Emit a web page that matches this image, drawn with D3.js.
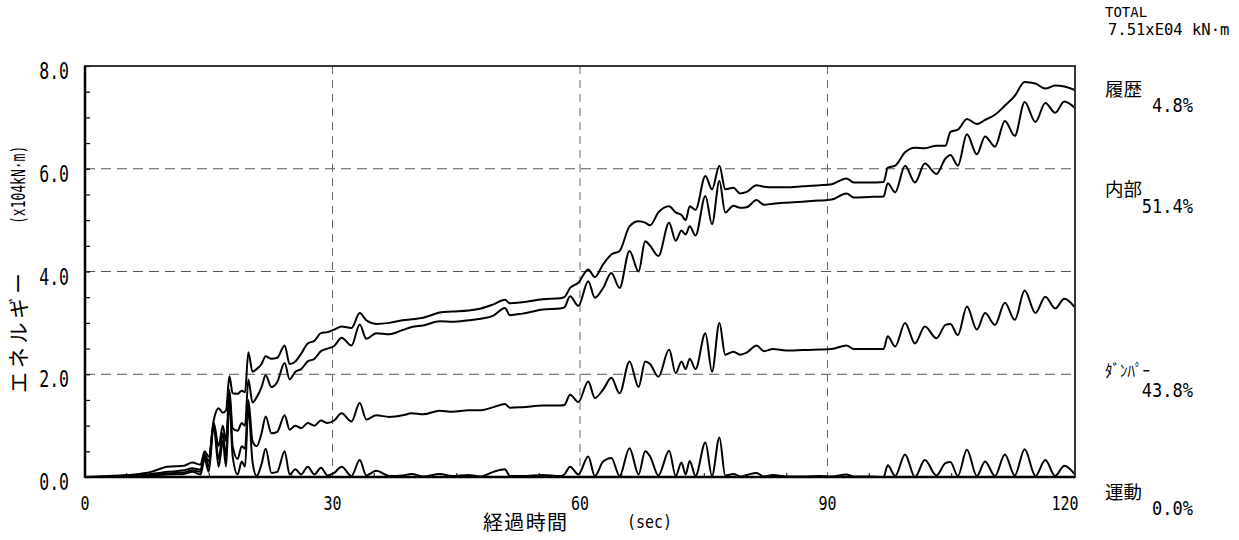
<!DOCTYPE html>
<html lang="ja">
<head>
<meta charset="UTF-8">
<title>エネルギー時刻歴</title>
<script src="https://d3js.org/d3.v7.min.js"></script>
<style>
  body { margin: 0; background: #fff; }
  svg { display: block; }
  .mono { font-family: "DejaVu Sans Mono", "Liberation Mono", monospace; }
  .jp { font-family: "Noto Sans CJK JP", sans-serif; }
</style>
</head>
<body>
<svg id="chart" width="1239" height="540"></svg>
<script>
// 時刻 (sec)
const time = [0, 2, 4, 6, 8, 10, 12, 13, 14, 14.5,
  15, 15.6, 16.2, 16.7, 17.1, 17.5, 17.9, 18.5, 19.0, 19.4,
  19.8, 20.3, 20.8, 21.4, 21.9, 22.6, 23.3, 24.2, 24.8, 25.5,
  26.2, 27.0, 27.8, 28.6, 29.4, 30.2, 31.1, 32.3, 33.3, 34.1,
  35.3, 36.9, 38.5, 39.6, 41, 43, 44.5, 46.5, 48, 49.5,
  50.9, 51.5, 53, 55.5, 57.6, 58.1, 58.8, 59.8, 61.0, 61.8,
  62.8, 63.8, 64.8, 66.0, 67.1, 67.9, 68.5, 69.5, 70.8, 71.6,
  72.3, 72.8, 73.3, 74.0, 75.2, 76.0, 76.9, 77.6, 78.6, 79.4,
  80.2, 81.4, 82.3, 83.4, 85, 87, 89, 90.5, 92.3, 93.2,
  95, 96.8, 97.3, 98.2, 99.4, 100.6, 101.8, 103.2, 104.3, 104.9,
  105.8, 106.9, 108.1, 109.1, 110.3, 111.5, 112.7, 113.9, 115.2, 116.4,
  117.6, 118.7, 120];

// 運動 (x10^4 kN·m)
const undo = [0, 0, 0.01, 0.02, 0.03, 0.05, 0.06, 0.1, 0.05, 0.35,
  0.1, 1.0, 0.2, 0.7, 0.2, 1.5, 0.4, 0.05, 0.3, 0.2,
  1.35, 0.3, 0.02, 0.25, 0.55, 0.08, 0.1, 0.5, 0.05, 0.15,
  0.05, 0.2, 0.05, 0.18, 0.03, 0.08, 0.2, 0.02, 0.33, 0.03,
  0.12, 0.02, 0.03, 0.06, 0.01, 0.06, 0.02, 0.04, 0.01, 0.1,
  0.15, 0.02, 0.02, 0.04, 0.02, 0.05, 0.2, 0.05, 0.4, 0.02,
  0.3, 0.37, 0.02, 0.56, 0.05, 0.5, 0.4, 0.03, 0.51, 0.02,
  0.28, 0.05, 0.31, 0.02, 0.67, 0.02, 0.77, 0.03, 0.06, 0.01,
  0.04, 0.08, 0.01, 0.04, 0.01, 0.01, 0.02, 0.01, 0.05, 0.01,
  0.01, 0, 0.23, 0.02, 0.44, 0, 0.33, 0.03, 0.27, 0.29,
  0.02, 0.53, 0.02, 0.3, 0.02, 0.44, 0.03, 0.54, 0.02, 0.33,
  0.02, 0.22, 0.05];

// 運動 + ダンパー
const danpa = [0, 0, 0.01, 0.02, 0.04, 0.07, 0.09, 0.13, 0.1, 0.4,
  0.2, 1.05, 0.35, 0.85, 0.4, 1.6, 0.6, 0.35, 0.6, 0.55,
  1.5, 0.7, 0.6, 0.85, 1.18, 0.85, 0.88, 1.2, 0.92, 1.0,
  0.95, 1.05, 1.0, 1.1, 1.05, 1.1, 1.24, 1.08, 1.44, 1.12,
  1.2, 1.17, 1.2, 1.24, 1.22, 1.29, 1.27, 1.3, 1.3, 1.36,
  1.42, 1.35, 1.36, 1.39, 1.39, 1.4, 1.6, 1.46, 1.86, 1.54,
  1.7, 1.93, 1.63, 2.25, 1.75, 2.25, 2.2, 1.95, 2.48, 2.02,
  2.25, 2.1, 2.3, 2.1, 2.8, 2.05, 3.0, 2.38, 2.44, 2.38,
  2.42, 2.56, 2.45, 2.49, 2.46, 2.47, 2.48, 2.49, 2.56, 2.49,
  2.49, 2.49, 2.74, 2.54, 3.0, 2.6, 2.93, 2.7, 2.96, 2.98,
  2.76, 3.32, 2.87, 3.19, 2.96, 3.39, 3.06, 3.63, 3.19, 3.51,
  3.28, 3.47, 3.3];

// 運動 + ダンパー + 内部
const naibu = [0, 0.01, 0.02, 0.03, 0.06, 0.1, 0.13, 0.17, 0.14, 0.45,
  0.3, 1.05, 0.6, 1.0, 0.7, 1.7, 0.95, 0.9, 1.05, 1.0,
  1.9, 1.45, 1.55, 1.75, 1.98, 1.75, 1.85, 2.22, 1.9, 2.05,
  2.1, 2.25, 2.3, 2.45, 2.5, 2.55, 2.71, 2.56, 2.97, 2.69,
  2.8, 2.78, 2.86, 2.92, 2.95, 3.03, 3.02, 3.05, 3.08, 3.14,
  3.29, 3.15, 3.18, 3.26, 3.28, 3.3, 3.52, 3.33, 3.81, 3.49,
  3.68, 3.97, 3.68, 4.4, 4.0, 4.59, 4.5, 4.3, 4.95, 4.6,
  4.8, 4.72, 4.88, 4.7, 5.47, 4.92, 5.76, 5.15, 5.28, 5.24,
  5.25, 5.39, 5.3, 5.32, 5.34, 5.36, 5.38, 5.4, 5.52, 5.44,
  5.45, 5.46, 5.72, 5.54, 6.06, 5.73, 6.1, 5.9, 6.2, 6.27,
  6.06, 6.67, 6.28, 6.63, 6.43, 6.93, 6.64, 7.3, 6.91, 7.28,
  7.09, 7.31, 7.18];

// 総入力 (TOTAL)
const total = [0, 0.01, 0.03, 0.05, 0.1, 0.2, 0.22, 0.28, 0.24, 0.5,
  0.4, 1.1, 1.34, 1.25, 1.3, 1.96, 1.63, 1.62, 1.68, 1.65,
  2.43, 2.05, 2.1, 2.2, 2.35, 2.3, 2.32, 2.56, 2.2, 2.25,
  2.4, 2.6, 2.65, 2.8, 2.82, 2.87, 2.93, 2.9, 3.19, 3.05,
  2.98, 3.0, 3.05, 3.07, 3.1, 3.2, 3.22, 3.24, 3.28, 3.36,
  3.45, 3.38, 3.4, 3.46, 3.48, 3.5, 3.68, 3.78, 4.04, 3.89,
  4.14, 4.33, 4.4, 4.88, 4.98, 4.95, 4.9, 5.15, 5.27, 5.15,
  5.1, 5.0, 5.27, 5.2, 5.86, 5.6, 6.06, 5.6, 5.63, 5.52,
  5.55, 5.68, 5.65, 5.64, 5.64, 5.66, 5.68, 5.7, 5.81, 5.73,
  5.73, 5.74, 6.02, 6.06, 6.32, 6.41, 6.4, 6.45, 6.45, 6.72,
  6.76, 6.97, 6.87, 6.95, 7.05, 7.23, 7.42, 7.69, 7.66, 7.56,
  7.62, 7.6, 7.53];

const yTicks = [0, 2, 4, 6, 8];
const xTicks = [0, 30, 60, 90, 120];

// 右側の凡例
const legendNames = ["履歴", "内部", "ﾀﾞﾝﾊﾟｰ", "運動"];
const legendPct = ["4.8%", "51.4%", "43.8%", "0.0%"];
const totalText = ["TOTAL", "7.51xE04 kN·m"];

const svg = d3.select("#chart");
const pl = 85, pr = 1075, pt = 66, pb = 477;

const x = d3.scaleLinear().domain([0, 120]).range([pl, pr]);
const y = d3.scaleLinear().domain([0, 8]).range([pb, pt]);

svg.append("rect").attr("width", 1239).attr("height", 540).attr("fill", "#fff");

svg.append("clipPath").attr("id", "plot")
  .append("rect").attr("x", pl).attr("y", pt)
  .attr("width", pr - pl).attr("height", pb - pt);

// monospaced text, stretched a bit vertically (narrow gothic look)
function mono(parent, txt, tx, ty, size, anchor, sy, rot) {
  return parent.append("text").attr("class", "mono")
    .attr("transform", `translate(${tx},${ty})` + (rot ? ` rotate(${rot})` : "") + ` scale(1,${sy})`)
    .attr("text-anchor", anchor).attr("font-size", size)
    .text(txt);
}

// grid
svg.append("g").selectAll("line").data(yTicks.slice(1, -1)).join("line")
  .attr("x1", pl).attr("x2", pr)
  .attr("y1", d => y(d)).attr("y2", d => y(d))
  .attr("stroke", "#555").attr("stroke-width", 1).attr("stroke-dasharray", "10,6");
svg.append("g").selectAll("line").data(xTicks.slice(1, -1)).join("line")
  .attr("x1", d => x(d)).attr("x2", d => x(d))
  .attr("y1", pt).attr("y2", pb)
  .attr("stroke", "#666").attr("stroke-width", 1).attr("stroke-dasharray", "8,6");

// minor ticks (inside)
svg.append("g").attr("transform", `translate(${pl},0)`)
  .call(d3.axisLeft(y).tickValues(d3.range(0, 8.01, 0.5)).tickSize(-5).tickFormat(""))
  .call(g => g.select(".domain").remove())
  .call(g => g.selectAll("line").attr("stroke", "#000").attr("stroke-width", 1.2));
svg.append("g").attr("transform", `translate(0,${pb})`)
  .call(d3.axisBottom(x).tickValues(d3.range(5, 120, 10)).tickSize(-4).tickFormat(""))
  .call(g => g.select(".domain").remove())
  .call(g => g.selectAll("line").attr("stroke", "#000").attr("stroke-width", 1));

// curves
const line = d3.line().x(d => x(d[0])).y(d => y(d[1])).curve(d3.curveMonotoneX);
const series = [total, naibu, danpa, undo];
svg.append("g").attr("clip-path", "url(#plot)")
  .selectAll("path").data(series).join("path")
  .attr("d", s => line(d3.zip(time, s)))
  .attr("fill", "none").attr("stroke", "#000")
  .attr("stroke-width", 2).attr("stroke-linejoin", "round");

// frame
svg.append("rect").attr("x", pl).attr("y", pt)
  .attr("width", pr - pl).attr("height", pb - pt)
  .attr("fill", "none").attr("stroke", "#222").attr("stroke-width", 1.8);
svg.append("line").attr("x1", pl).attr("x2", pl).attr("y1", pt).attr("y2", pb + 1)
  .attr("stroke", "#000").attr("stroke-width", 2.5);
svg.append("line").attr("x1", pl).attr("x2", pr).attr("y1", pb).attr("y2", pb)
  .attr("stroke", "#000").attr("stroke-width", 2.5);

// tick labels
const gy = svg.append("g");
yTicks.forEach(v => mono(gy, v.toFixed(1), 69, y(v) + 13, 16.5, "end", 1.4));
const gx = svg.append("g");
xTicks.forEach(v => mono(gx, String(v), v === 120 ? 1065 : x(v), 510, 15, "middle", 1.33));

// axis titles
svg.append("text").attr("class", "jp").attr("x", 483).attr("y", 530)
  .attr("font-size", 20).attr("textLength", 84).attr("lengthAdjust", "spacing")
  .text("経過時間");
mono(svg, "(sec)", 627, 528, 15, "start", 1.15);
svg.append("text").attr("class", "jp")
  .attr("transform", "translate(26,393) rotate(-90)")
  .attr("font-size", 21).attr("textLength", 120).attr("lengthAdjust", "spacing")
  .text("エネルギー");
mono(svg, "(x104kN·m)", 25, 224, 13, "start", 1.5, -90);

// right side legend
mono(svg, totalText[0], 1105, 17, 14, "start", 1.0);
mono(svg, totalText[1], 1108, 35, 15.5, "start", 1.0);

const nameY = [96, 196, 377, 499];
const pctY = [112, 213, 397, 515];
svg.append("g").selectAll("text").data(legendNames).join("text")
  .attr("class", "jp").attr("x", 1105).attr("y", (d, i) => nameY[i])
  .attr("font-size", (d, i) => i === 2 ? 17 : 18)
  .attr("textLength", (d, i) => i === 2 ? 45 : 37).attr("lengthAdjust", "spacingAndGlyphs")
  .text(d => d);
const gp = svg.append("g");
legendPct.forEach((p, i) => mono(gp, p, 1193, pctY[i], 17, "end", 1.1));
</script>
</body>
</html>
